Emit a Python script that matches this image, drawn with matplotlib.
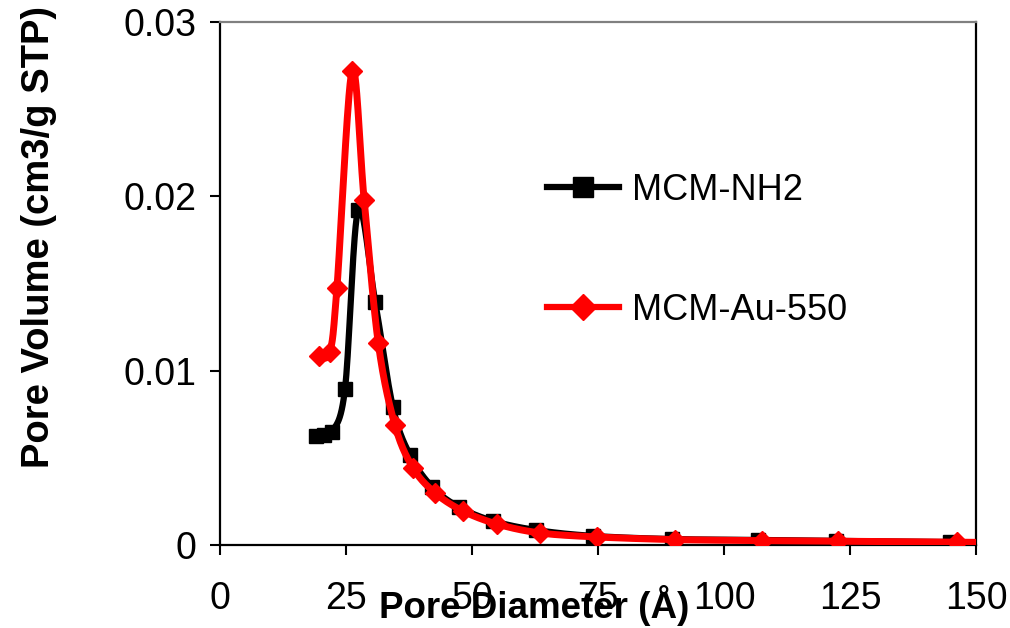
import numpy as np
import matplotlib
matplotlib.use("Agg")
import matplotlib.pyplot as plt
from matplotlib.lines import Line2D

plt.rcParams['font.family'] = ['Liberation Sans', 'DejaVu Sans']

# Pore size distribution data
nh2_diam = [19.0, 20.6, 22.2, 24.8, 27.4, 30.8, 34.3, 37.7, 42.1, 47.4,
            54.2, 62.7, 74.0, 89.7, 106.7, 122.2, 144.8]
nh2_vol = [0.00625, 0.00631, 0.00648, 0.00895, 0.0192, 0.01394, 0.00792,
           0.00516, 0.00333, 0.00218, 0.00138, 0.00086, 0.00052, 0.00034,
           0.00029, 0.00023, 0.00017]

au_diam = [19.6, 21.8, 23.2, 26.2, 28.6, 31.4, 34.7, 38.3, 42.7, 48.2,
           55.0, 63.5, 74.8, 90.2, 107.5, 122.6, 146.2, 170.0]
au_vol = [0.01084, 0.01107, 0.01474, 0.0272, 0.0198, 0.01159, 0.00688,
          0.00442, 0.00298, 0.00195, 0.0012, 0.00069, 0.00046, 0.00031,
          0.00025, 0.00022, 0.00016, 0.00012]

x_ticks = [0, 25, 50, 75, 100, 125, 150]
y_ticks = [0, 0.01, 0.02, 0.03]
y_tick_labels = ['0', '0.01', '0.02', '0.03']

W, H = 1010, 628
fig = plt.figure(figsize=(W / 100, H / 100), dpi=100)
ax = fig.add_axes([220 / W, (H - 545) / H, 756 / W, 523 / H])
ax.set_xlim(0, 150)
ax.set_ylim(0, 0.03)


def smooth(xs, ys, n=30):
    """Catmull-Rom smoothing computed in display space."""
    pts = ax.transData.transform(np.column_stack([xs, ys]))
    P = np.vstack([pts[0], pts, pts[-1]])
    out = []
    for i in range(1, len(P) - 2):
        p0, p1, p2, p3 = P[i - 1], P[i], P[i + 1], P[i + 2]
        c1 = p1 + (p2 - p0) / 6.0
        c2 = p2 - (p3 - p1) / 6.0
        t = np.linspace(0, 1, n)[:, None]
        seg = ((1 - t) ** 3) * p1 + 3 * ((1 - t) ** 2) * t * c1 \
            + 3 * (1 - t) * t ** 2 * c2 + t ** 3 * p2
        out.append(seg if i == 1 else seg[1:])
    curve = np.vstack(out)
    return ax.transData.inverted().transform(curve).T


sx, sy = smooth(nh2_diam, nh2_vol)
ax.plot(sx, sy, color='black', lw=4.5, solid_capstyle='round', zorder=2)
ax.plot(nh2_diam, nh2_vol, ls='none', marker='s', ms=10.5, color='black',
        zorder=3)

rx, ry = smooth(au_diam, au_vol)
ax.plot(rx, ry, color='#ff0000', lw=5, solid_capstyle='round', zorder=4)
ax.plot(au_diam, au_vol, ls='none', marker='D', ms=10, color='#ff0000',
        zorder=5)

ax.set_xticks(x_ticks)
ax.set_xticklabels([str(v) for v in x_ticks])
ax.set_yticks(y_ticks)
ax.set_yticklabels(y_tick_labels)
ax.tick_params(axis='x', direction='out', length=7, width=1.5,
               labelsize=27, pad=19, colors='black')
ax.tick_params(axis='y', direction='out', length=7, width=1.5,
               labelsize=27, pad=10, colors='black')

for side in ['left', 'bottom', 'right']:
    ax.spines[side].set_color('black')
    ax.spines[side].set_linewidth(1.6)
ax.spines['top'].set_color('#808080')
ax.spines['top'].set_linewidth(1.6)

fig.text(39 / W, 1 - 237 / H, 'Pore Volume (cm3/g STP)', rotation=90,
         ha='center', va='center', fontsize=27.5, fontweight='bold')
fig.text(534 / W, 1 - 606 / H, 'Pore Diameter (Å)', ha='center',
         va='center', fontsize=26.5, fontweight='bold')

handles = [
    Line2D([], [], color='black', lw=4.5, marker='s', ms=15),
    Line2D([], [], color='#ff0000', lw=4.5, marker='D', ms=13),
]
ax.legend(handles, ['MCM-NH2', 'MCM-Au-550'], loc='upper left',
          bbox_to_anchor=(547 / W, 1 - 173 / H),
          bbox_transform=fig.transFigure, frameon=False, fontsize=26,
          handlelength=2.0, handletextpad=0.35, labelspacing=2.35,
          borderpad=0, borderaxespad=0)

fig.savefig('out.png', dpi=100)
